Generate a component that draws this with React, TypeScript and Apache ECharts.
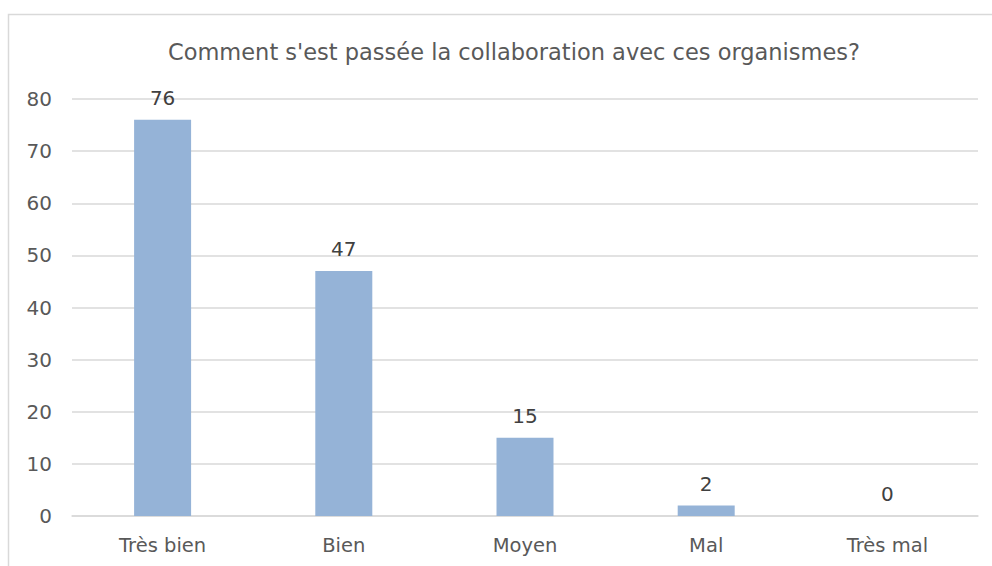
import React, { useEffect, useRef } from "react";
import * as echarts from "echarts";

const categories = ["Très bien", "Bien", "Moyen", "Mal", "Très mal"];
const values = [76, 47, 15, 2, 0];
const yTicks = [0, 10, 20, 30, 40, 50, 60, 70, 80];
const title = "Comment s'est passée la collaboration avec ces organismes?";

const FONT = "'DejaVu Sans', sans-serif";

export default function App() {
  const ref = useRef<HTMLDivElement>(null);
  useEffect(() => {
    if (!ref.current) return;
    const chart = echarts.init(ref.current, undefined, { renderer: "svg" });
    chart.setOption({
      animation: false,
      backgroundColor: "#ffffff",
      title: {
        text: title,
        left: 509,
        top: 35,
        textAlign: "center",
        textStyle: { fontFamily: FONT, fontSize: 22.5, fontWeight: "normal", color: "#595959" },
      },
      graphic: [
        {
          type: "rect",
          shape: { x: 8.5, y: 14.5, width: 1100, height: 700 },
          style: { fill: "none", stroke: "#d9d9d9", lineWidth: 1.5 },
          silent: true,
        },
      ],
      grid: { left: 72, right: 14, top: 99, bottom: 50, containLabel: false },
      xAxis: {
        type: "category",
        data: categories,
        axisLine: { show: true, lineStyle: { color: "#d9d9d9", width: 1.5 } },
        axisTick: { show: false },
        axisLabel: { fontFamily: FONT, fontSize: 19.5, color: "#595959", margin: 19 },
      },
      yAxis: {
        type: "value",
        min: yTicks[0],
        max: yTicks[yTicks.length - 1],
        interval: 10,
        axisLine: { show: false },
        axisTick: { show: false },
        axisLabel: { fontFamily: FONT, fontSize: 20, color: "#595959", margin: 20 },
        splitLine: { lineStyle: { color: "#d9d9d9", width: 1.5 } },
      },
      series: [
        {
          type: "bar",
          data: values,
          barWidth: 57,
          itemStyle: { color: "#95B3D7" },
          label: {
            show: true,
            position: "top",
            distance: 12,
            fontFamily: FONT,
            fontSize: 20,
            color: "#404040",
          },
        },
      ],
    });
    return () => chart.dispose();
  }, []);
  return (
    <div
      ref={ref}
      style={{ position: "fixed", left: 0, top: 0, width: 992, height: 566 }}
    />
  );
}
